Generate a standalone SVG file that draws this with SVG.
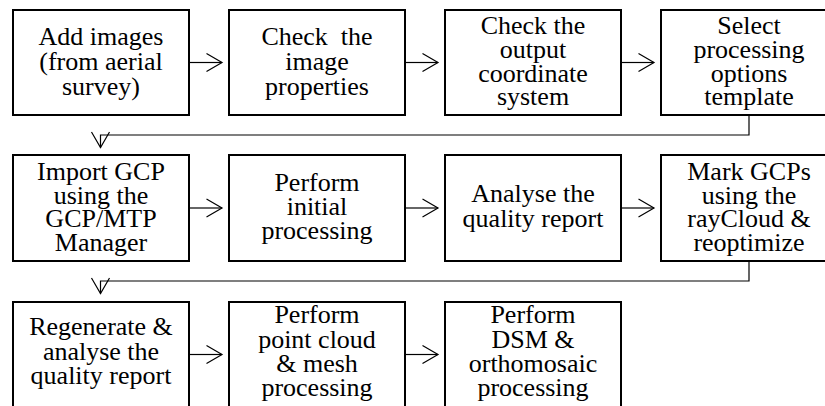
<svg xmlns="http://www.w3.org/2000/svg" width="825" height="406" viewBox="0 0 825 406">
<style>
.box{fill:#fff;stroke:#000;stroke-width:2}
.lbl{font-family:'Liberation Serif','Times New Roman',serif;font-size:26px;fill:#000;text-anchor:middle}
.con{fill:none;stroke:#000;stroke-width:1.2;marker-end:url(#arr)}
</style>
<defs>
<marker id="arr" markerUnits="userSpaceOnUse" markerWidth="20" markerHeight="20" refX="0" refY="0" viewBox="-17 -10 18 20" orient="auto" overflow="visible">
<path d="M-15.5,-9 L0,0 L-15.5,9" fill="none" stroke="#000" stroke-width="1.2"/>
</marker>
</defs>
<rect width="825" height="406" fill="#fff"/>
<g id="connectors">
<path class="con" d="M190,62.5 H222"/>
<path class="con" d="M406,62.5 H438"/>
<path class="con" d="M622,62.5 H654"/>
<path class="con" d="M749,116 V135 H100.5 V147.5"/>
<path class="con" d="M190,208 H222"/>
<path class="con" d="M406,208 H438"/>
<path class="con" d="M622,208 H654"/>
<path class="con" d="M749,262 V281 H100.5 V293.5"/>
<path class="con" d="M190,354.5 H222"/>
<path class="con" d="M406,354.5 H438"/>
</g>
<g id="n1"><rect class="box" x="13" y="10" width="176" height="105"/>
<text class="lbl" x="101"><tspan x="101" y="45">Add images</tspan><tspan x="101" y="70">(from aerial</tspan><tspan x="101" y="95">survey)</tspan></text></g>
<g id="n2"><rect class="box" x="229" y="10" width="176" height="105"/>
<text class="lbl" x="317" xml:space="preserve"><tspan x="317" y="45">Check  the</tspan><tspan x="317" y="70">image</tspan><tspan x="317" y="95">properties</tspan></text></g>
<g id="n3"><rect class="box" x="445" y="10" width="176" height="105"/>
<text class="lbl" x="533"><tspan x="533" y="33.5">Check the</tspan><tspan x="533" y="57.5">output</tspan><tspan x="533" y="81.5">coordinate</tspan><tspan x="533" y="105">system</tspan></text></g>
<g id="n4"><rect class="box" x="661" y="10" width="176" height="105"/>
<text class="lbl" x="749"><tspan x="749" y="33.5">Select</tspan><tspan x="749" y="57.5">processing</tspan><tspan x="749" y="81.5">options</tspan><tspan x="749" y="105">template</tspan></text></g>
<g id="n5"><rect class="box" x="13" y="155" width="176" height="106"/>
<text class="lbl" x="101"><tspan x="101" y="180">Import GCP</tspan><tspan x="101" y="203.5">using the</tspan><tspan x="101" y="227">GCP/MTP</tspan><tspan x="101" y="250.5">Manager</tspan></text></g>
<g id="n6"><rect class="box" x="229" y="155" width="176" height="106"/>
<text class="lbl" x="317"><tspan x="317" y="190.5">Perform</tspan><tspan x="317" y="214.5">initial</tspan><tspan x="317" y="239">processing</tspan></text></g>
<g id="n7"><rect class="box" x="445" y="155" width="176" height="106"/>
<text class="lbl" x="533"><tspan x="533" y="202">Analyse the</tspan><tspan x="533" y="226.5">quality report</tspan></text></g>
<g id="n8"><rect class="box" x="661" y="155" width="176" height="106"/>
<text class="lbl" x="749"><tspan x="749" y="180">Mark GCPs</tspan><tspan x="749" y="203.5">using the</tspan><tspan x="749" y="227">rayCloud &amp;</tspan><tspan x="749" y="250.5">reoptimize</tspan></text></g>
<g id="n9"><rect class="box" x="13" y="302" width="176" height="106"/>
<text class="lbl" x="101"><tspan x="101" y="335">Regenerate &amp;</tspan><tspan x="101" y="359.5">analyse the</tspan><tspan x="101" y="384">quality report</tspan></text></g>
<g id="n10"><rect class="box" x="229" y="302" width="176" height="106"/>
<text class="lbl" x="317"><tspan x="317" y="323">Perform</tspan><tspan x="317" y="347.5">point cloud</tspan><tspan x="317" y="372">&amp; mesh</tspan><tspan x="317" y="396">processing</tspan></text></g>
<g id="n11"><rect class="box" x="445" y="302" width="176" height="106"/>
<text class="lbl" x="533"><tspan x="533" y="323">Perform</tspan><tspan x="533" y="347.5">DSM &amp;</tspan><tspan x="533" y="372">orthomosaic</tspan><tspan x="533" y="396">processing</tspan></text></g>
</svg>
